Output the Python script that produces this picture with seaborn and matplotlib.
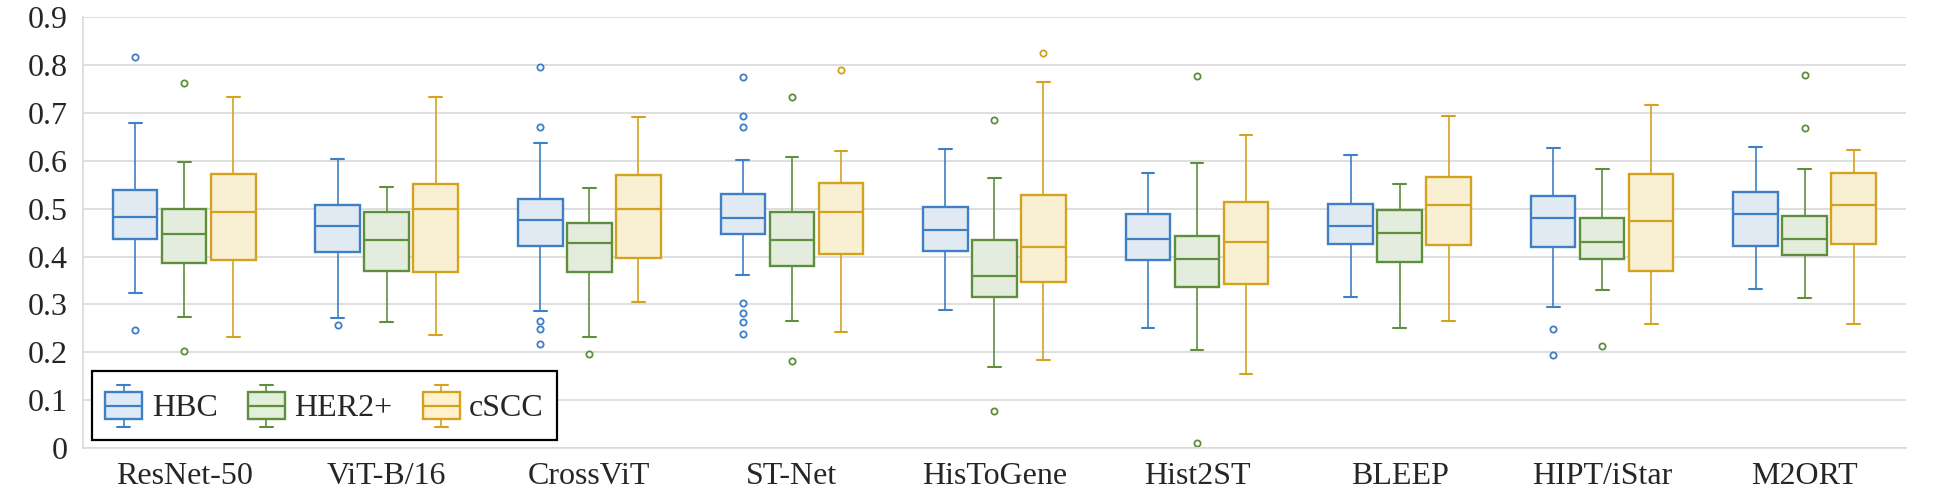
import numpy as np
import pandas as pd
import matplotlib
matplotlib.use('Agg')
import matplotlib.pyplot as plt
import seaborn as sns
from matplotlib.patches import Patch, Rectangle
from matplotlib.lines import Line2D
from matplotlib.legend_handler import HandlerBase

methods = ['ResNet-50', 'ViT-B/16', 'CrossViT', 'ST-Net', 'HisToGene',
           'Hist2ST', 'BLEEP', 'HIPT/iStar', 'M2ORT']
datasets = ['HBC', 'HER2+', 'cSCC']

# per method: lower whisker, q1, median, q3, upper whisker
hbc_box = [
    [0.325, 0.437, 0.483, 0.540, 0.680],
    [0.271, 0.410, 0.465, 0.509, 0.605],
    [0.286, 0.423, 0.477, 0.520, 0.638],
    [0.361, 0.448, 0.481, 0.531, 0.603],
    [0.288, 0.411, 0.455, 0.504, 0.626],
    [0.250, 0.392, 0.437, 0.490, 0.575],
    [0.316, 0.427, 0.464, 0.510, 0.612],
    [0.294, 0.421, 0.481, 0.526, 0.627],
    [0.333, 0.423, 0.490, 0.536, 0.630],
]
hbc_out = [[0.247, 0.817], [0.258], [0.217, 0.249, 0.266, 0.672, 0.797],
           [0.238, 0.263, 0.282, 0.304, 0.672, 0.694, 0.776], [], [], [],
           [0.194, 0.249], []]

her2_box = [
    [0.274, 0.386, 0.448, 0.500, 0.598],
    [0.264, 0.371, 0.435, 0.493, 0.545],
    [0.233, 0.368, 0.429, 0.471, 0.544],
    [0.266, 0.381, 0.434, 0.494, 0.609],
    [0.170, 0.315, 0.360, 0.435, 0.564],
    [0.204, 0.336, 0.395, 0.443, 0.595],
    [0.250, 0.388, 0.450, 0.498, 0.552],
    [0.331, 0.395, 0.431, 0.481, 0.584],
    [0.314, 0.404, 0.437, 0.485, 0.584],
]
her2_out = [[0.203, 0.764], [], [0.197], [0.181, 0.734], [0.078, 0.686],
            [0.010, 0.778], [], [0.213], [0.669, 0.780]]

cscc_box = [
    [0.233, 0.394, 0.494, 0.572, 0.733],
    [0.236, 0.367, 0.499, 0.551, 0.733],
    [0.306, 0.398, 0.500, 0.570, 0.692],
    [0.243, 0.406, 0.493, 0.554, 0.620],
    [0.183, 0.347, 0.421, 0.528, 0.766],
    [0.155, 0.343, 0.430, 0.515, 0.655],
    [0.265, 0.424, 0.508, 0.567, 0.693],
    [0.260, 0.371, 0.475, 0.572, 0.718],
    [0.260, 0.427, 0.509, 0.575, 0.623],
]
cscc_out = [[], [], [], [0.790], [0.825], [], [], [], []]

y_ticks = [0, 0.1, 0.2, 0.3, 0.4, 0.5, 0.6, 0.7, 0.8, 0.9]
y_labels = ['0', '0.1', '0.2', '0.3', '0.4', '0.5', '0.6', '0.7', '0.8', '0.9']

edge_colors = {'HBC': '#3f7fc5', 'HER2+': '#5e8f3c', 'cSCC': '#d4a21e'}
face_colors = {'HBC': '#deeaf6', 'HER2+': '#e2efda', 'cSCC': '#fff2cc'}


def make_sample(stats, outliers):
    # values whose quartiles / Tukey whiskers reproduce the read-off summary
    lo, q1, med, q3, hi = stats
    low = sorted(v for v in outliers if v < q1) + [lo]
    high = [hi] + sorted(v for v in outliers if v > q3)
    k = max(len(low), len(high))
    return (low + [q1] * (k + 1 - len(low)) + [med] * k + [q3] * k
            + [q3] * (k - len(high)) + high)


rows = []
for ds, boxes, outs in [('HBC', hbc_box, hbc_out),
                        ('HER2+', her2_box, her2_out),
                        ('cSCC', cscc_box, cscc_out)]:
    for m, st, ol in zip(methods, boxes, outs):
        for v in make_sample(st, ol):
            rows.append({'method': m, 'dataset': ds, 'value': v})
df = pd.DataFrame(rows)

sns.set_style('white')
plt.rcParams['font.family'] = ['Liberation Serif', 'DejaVu Serif']

fig = plt.figure(figsize=(19.37, 4.98), dpi=100)
ax = fig.add_axes([0.0428, 0.1004, 0.9412, 0.8645])

for ds in datasets:
    ec = edge_colors[ds]
    sns.boxplot(data=df[df['dataset'] == ds], x='method', y='value',
                hue='dataset', order=methods, hue_order=datasets,
                palette=face_colors, linecolor=ec, dodge=True,
                width=0.726, gap=0.09, whis=1.5,
                boxprops=dict(linewidth=1.7),
                medianprops=dict(linewidth=1.6),
                whiskerprops=dict(linewidth=1.2),
                capprops=dict(linewidth=1.5),
                flierprops=dict(marker='o', markerfacecolor='white',
                                markeredgecolor=ec, markersize=4.5,
                                markeredgewidth=1.3),
                capwidths=0.063, legend=False, ax=ax)

ax.set_xlim(-0.5, 8.5)
ax.set_ylim(0, 0.9)
ax.set_yticks(y_ticks)
ax.set_yticklabels(y_labels)
ax.set_xlabel('')
ax.set_ylabel('')
ax.yaxis.grid(True, color='#d9d9d9', linewidth=1.2)
ax.set_axisbelow(True)
for s in ['top', 'right']:
    ax.spines[s].set_visible(False)
for s in ['left', 'bottom']:
    ax.spines[s].set_color('#d9d9d9')
    ax.spines[s].set_linewidth(1.2)
ax.tick_params(axis='y', length=0, labelsize=23, pad=11)
ax.tick_params(axis='x', length=0, labelsize=23, pad=10)


class BoxHandler(HandlerBase):
    def create_artists(self, legend, orig_handle, xdescent, ydescent,
                       width, height, fontsize, trans):
        fc = orig_handle.get_facecolor()
        ec = orig_handle.get_edgecolor()
        x0, y0 = -xdescent, -ydescent
        bh = height * 0.65
        by = y0 + (height - bh) / 2
        cx = x0 + width / 2
        cw = width * 0.175
        box = Rectangle((x0, by), width, bh, facecolor=fc, edgecolor=ec,
                        linewidth=1.7, transform=trans)
        med = Line2D([x0, x0 + width], [by + bh / 2] * 2, color=ec,
                     linewidth=1.6, transform=trans)
        w1 = Line2D([cx, cx], [y0, by], color=ec, linewidth=1.2, transform=trans)
        w2 = Line2D([cx, cx], [by + bh, y0 + height], color=ec, linewidth=1.2,
                    transform=trans)
        c1 = Line2D([cx - cw, cx + cw], [y0, y0], color=ec, linewidth=1.5,
                    transform=trans)
        c2 = Line2D([cx - cw, cx + cw], [y0 + height] * 2, color=ec,
                    linewidth=1.5, transform=trans)
        return [w1, w2, c1, c2, box, med]


handles = [Patch(facecolor=face_colors[d], edgecolor=edge_colors[d], label=d)
           for d in datasets]
leg = ax.legend(handles=handles, handler_map={Patch: BoxHandler()},
                loc='lower left', bbox_to_anchor=(0.005, 0.018), ncol=3,
                fontsize=23, frameon=True, fancybox=False, edgecolor='black',
                framealpha=1, handlelength=1.15, handleheight=1.65,
                handletextpad=0.3, columnspacing=0.95, borderpad=0.42,
                borderaxespad=0)
leg.get_frame().set_linewidth(1.6)

fig.savefig('out.png', dpi=100)
